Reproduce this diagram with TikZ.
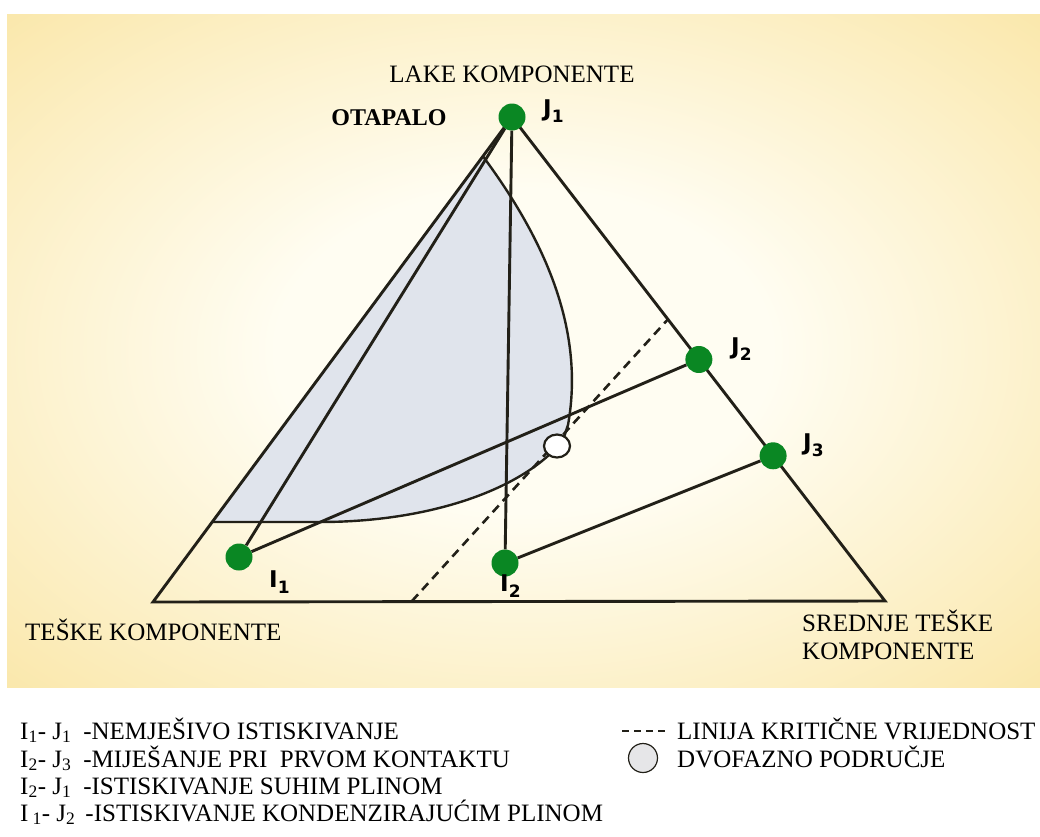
\documentclass[tikz,border=0pt]{standalone}
\usepackage{fontspec}
\setmainfont{Liberation Serif}
\newfontfamily\lblfont{DejaVu Sans}
\usetikzlibrary{calc,shapes.geometric}
\definecolor{bgin}{RGB}{255,253,242}
\definecolor{bgout}{RGB}{248,222,140}
\definecolor{ink}{RGB}{34,32,24}
\definecolor{dotgreen}{RGB}{10,135,35}
\definecolor{phase}{RGB}{224,228,236}
\definecolor{legphase}{RGB}{230,230,232}
\pgfdeclareradialshading{bgshade}{\pgfpoint{0bp}{0bp}}{color(0bp)=(bgin); color(12bp)=(bgin); color(46bp)=(bgout); color(80bp)=(bgout)}
\begin{document}
\begin{tikzpicture}[x=1pt,y=-1pt,
  edge/.style={draw=ink, line width=2.9pt},
  bound/.style={draw=ink, line width=2.4pt},
  crit/.style={draw=ink, line width=2.6pt, dash pattern=on 9pt off 6pt},
  gdot/.style={circle, fill=dotgreen, minimum size=27pt, inner sep=0pt},
  ptlabel/.style={font=\lblfont\bfseries\fontsize{23}{23}\selectfont, anchor=base west, inner sep=0pt},
  txt/.style={font=\fontsize{25}{27}\selectfont, inner sep=0pt},
  legtxt/.style={font=\fontsize{25}{27}\selectfont, inner sep=0pt, anchor=base west},
]
\useasboundingbox (0,0) rectangle (1040,836);
\fill[white] (0,0) rectangle (1040,836);
\shade[shading=bgshade] (7,14) rectangle (1040,687);

% corner points
\coordinate (A) at (512,117);
\coordinate (B) at (153,602);
\coordinate (C) at (885,601);
\coordinate (gtop) at ($(A)!0.081!(B)$);
\coordinate (gbot) at ($(A)!0.835!(B)$);

% two-phase region
\fill[phase] (gtop) -- (gbot) -- (320,522) .. controls (420,522) and (505,495) .. (549,455)
  -- (566,437) -- (568,425) .. controls (585,330) and (545,240) .. (gtop) -- cycle;
\draw[bound] (gbot) -- (320,522) .. controls (420,522) and (505,495) .. (549,455);
\draw[bound] (gtop) .. controls (545,240) and (585,330) .. (568,425) -- (564,437);

% triangle
\draw[edge, line join=miter] (A) -- (B) -- (C) -- cycle;

% critical line
\coordinate (cbot) at (412,601);
\coordinate (ctop) at ($(A)!0.418!(C)$);
\draw[crit] (cbot) -- (ctop);

% points
\node[gdot] (J1) at (A) {};
\node[gdot] (J2) at ($(A)!0.501!(C)$) {};
\node[gdot] (J3) at ($(A)!0.70!(C)$) {};
\node[gdot] (I1) at (239,557) {};
\node[gdot] (I2) at (505,563) {};

\draw[edge] (I1) -- (J1);
\draw[edge] (I1) -- (J2);
\draw[edge] (I2) -- (J1);
\draw[edge] (I2) -- (J3);

% plait point
\node[ellipse, draw=ink, line width=2.2pt, fill=white, minimum width=26pt, minimum height=23pt, inner sep=0pt] (plait) at (557,446) {};

% point labels
\node[ptlabel] (lJ1) at (543,116) {J\raisebox{-6pt}{\fontsize{17}{17}\selectfont 1}};
\node[ptlabel] (lJ2) at (731,354) {J\raisebox{-6pt}{\fontsize{17}{17}\selectfont 2}};
\node[ptlabel] (lJ3) at (803,450) {J\raisebox{-6pt}{\fontsize{17}{17}\selectfont 3}};
\node[ptlabel] (lI1) at (269,587) {I\raisebox{-6pt}{\fontsize{17}{17}\selectfont 1}};
\node[ptlabel] (lI2) at (500,591) {I\raisebox{-6pt}{\fontsize{17}{17}\selectfont 2}};

% corner labels
\node[txt, anchor=base] (lake) at (512,82) {LAKE KOMPONENTE};
\node[inner sep=0pt, anchor=base, font=\fontsize{24}{26}\selectfont\bfseries] (otapalo) at (389,125) {OTAPALO};
\node[legtxt] (teske) at (25,640) {TEŠKE KOMPONENTE};
\node[legtxt] (srednje1) at (802,631) {SREDNJE TEŠKE};
\node[legtxt] (srednje2) at (802,659) {KOMPONENTE};

% legend
\node[legtxt] (leg1) at (20,739) {I\textsubscript{1}- J\textsubscript{1}\hspace{12pt}-NEMJEŠIVO ISTISKIVANJE};
\node[legtxt] (leg2) at (20,767) {I\textsubscript{2}- J\textsubscript{3}\hspace{12pt}-MIJEŠANJE PRI \ PRVOM KONTAKTU};
\node[legtxt] (leg3) at (20,794) {I\textsubscript{2}- J\textsubscript{1}\hspace{12pt}-ISTISKIVANJE SUHIM PLINOM};
\node[legtxt] (leg4) at (20,821) {I\,\textsubscript{1}- J\textsubscript{2}\hspace{10pt}-ISTISKIVANJE KONDENZIRAJUĆIM PLINOM};

\coordinate (ld1) at (622,731);
\coordinate (ld2) at (669,731);
\draw[draw=ink, line width=1.4pt, dash pattern=on 7pt off 5pt] (ld1) -- (ld2);
\node[legtxt] (leg5) at (677,739) {LINIJA KRITIČNE VRIJEDNOST};
\node[circle, draw=ink, line width=1.2pt, fill=legphase, minimum size=29pt, inner sep=0pt] (legcirc) at (643,758) {};
\node[legtxt] (leg6) at (677,767) {DVOFAZNO PODRUČJE};
\end{tikzpicture}
\end{document}
